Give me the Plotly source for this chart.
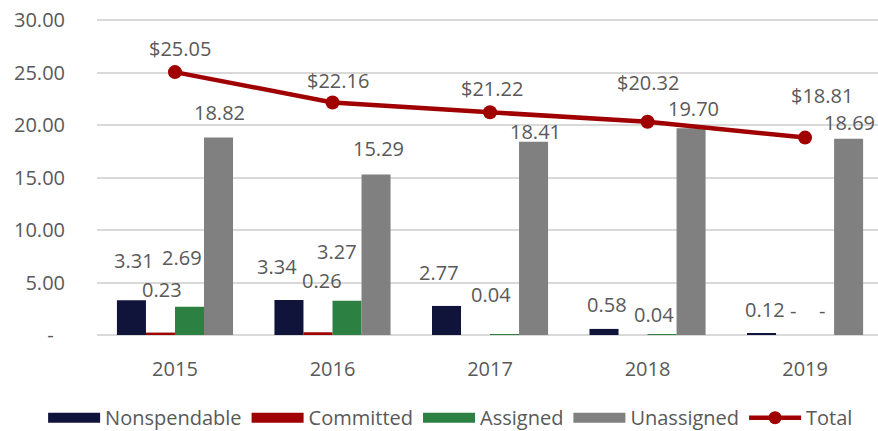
import plotly.graph_objects as go

# ---- data ----
years = ["2015", "2016", "2017", "2018", "2019"]
nonspendable = [3.31, 3.34, 2.77, 0.58, 0.12]
committed = [0.23, 0.26, None, None, 0]
assigned = [2.69, 3.27, 0.04, 0.04, 0]
unassigned = [18.82, 15.29, 18.41, 19.70, 18.69]
total = [25.05, 22.16, 21.22, 20.32, 18.81]

y_tick_vals = [0, 5, 10, 15, 20, 25, 30]
y_tick_text = ["-\u2007", "5.00", "10.00", "15.00", "20.00", "25.00", "30.00"]

# ---- styles ----
FONT = "Open Sans"
TXT = "#595959"
FS = 20
colors = {
    "Nonspendable": "#10133A",
    "Committed": "#A00000",
    "Assigned": "#2B8042",
    "Unassigned": "#808080",
    "Total": "#A00000",
}

# label pixel offsets (dx, dy-up) relative to bar-top / marker
label_offsets = {
    "Nonspendable": [(-41, 40), (-56, 33), (-51, 33), (-41, 24), (-40, 24)],
    "Committed": [(-13, 43), (-11, 52), (0, 0), (0, 0), (-12, 25)],
    "Assigned": [(7, 49), (4, 49), (1, 40), (6, 20), (17, 25)],
    "Unassigned": [(45, 25), (46, 26), (45, 10), (46, 20), (44, 16)],
    "Total": [(5, 24), (5, 22), (2, 24), (0, 39), (17, 42)],
}


def fmt(v, prefix=""):
    if v is None:
        return None
    if v == 0:
        return "-"
    return f"{prefix}{v:.2f}"


fig = go.Figure()
series = [
    ("Nonspendable", nonspendable),
    ("Committed", committed),
    ("Assigned", assigned),
    ("Unassigned", unassigned),
]
for name, vals in series:
    fig.add_trace(go.Bar(
        x=years, y=[v if v is not None else 0 for v in vals], name=name,
        marker=dict(color=colors[name], line=dict(width=0)),
        showlegend=False, hoverinfo="skip",
    ))

fig.add_trace(go.Scatter(
    x=years, y=total, name="Total", mode="lines+markers",
    line=dict(color=colors["Total"], width=4.5),
    marker=dict(color=colors["Total"], size=14),
    showlegend=False,
))

# legend entries (wide swatches like the original)
for name, _ in series:
    fig.add_trace(go.Scatter(
        x=[None], y=[None], name=name, mode="lines",
        line=dict(color=colors[name], width=13),
    ))
fig.add_trace(go.Scatter(
    x=[None], y=[None], name="Total", mode="lines+markers",
    line=dict(color=colors["Total"], width=4.5),
    marker=dict(color=colors["Total"], size=13),
))

# data labels (x given as category index)
annotations = []
for name, vals in series + [("Total", total)]:
    for i, v in enumerate(vals):
        t = fmt(v, "$" if name == "Total" else "")
        if t is None:
            continue
        dx, dy = label_offsets[name][i]
        annotations.append(dict(
            x=i, y=v, xref="x", yref="y", text=t, showarrow=False,
            xanchor="center", yanchor="middle", xshift=dx, yshift=dy,
            font=dict(family=FONT, size=FS, color=TXT),
        ))

fig.update_layout(
    width=878, height=431,
    margin=dict(l=97, r=0, t=17, b=96, autoexpand=False),
    paper_bgcolor="white", plot_bgcolor="white",
    barmode="group", bargap=0.263, bargroupgap=0,
    font=dict(family=FONT, size=FS, color=TXT),
    annotations=annotations,
    legend=dict(
        orientation="h", xref="paper", yref="paper",
        x=-0.069, xanchor="left", y=-0.26, yanchor="middle",
        font=dict(family=FONT, size=20, color=TXT),
        itemwidth=52, tracegroupgap=0, bgcolor="rgba(0,0,0,0)",
    ),
    xaxis=dict(
        type="category", range=[-0.495, 4.463],
        showgrid=False, showline=False, zeroline=False,
        ticks="outside", ticklen=16, tickcolor="rgba(0,0,0,0)",
        tickfont=dict(family=FONT, size=FS, color=TXT),
    ),
    yaxis=dict(
        range=[0, 30.3], tickvals=y_tick_vals, ticktext=y_tick_text,
        showgrid=True, gridcolor="#D9D9D9", gridwidth=1.5,
        zeroline=True, zerolinecolor="#D9D9D9", zerolinewidth=2,
        showline=False, ticks="outside", ticklen=27, tickcolor="rgba(0,0,0,0)",
        ticklabeloverflow="allow",
        tickfont=dict(family=FONT, size=FS, color=TXT),
    ),
)

# remove the page's default 8px body margin so the figure fills the window
fig.write_html(
    "out.html",
    config={"displayModeBar": False},
    post_script="document.body.style.margin='0';document.body.style.overflow='hidden';",
)
